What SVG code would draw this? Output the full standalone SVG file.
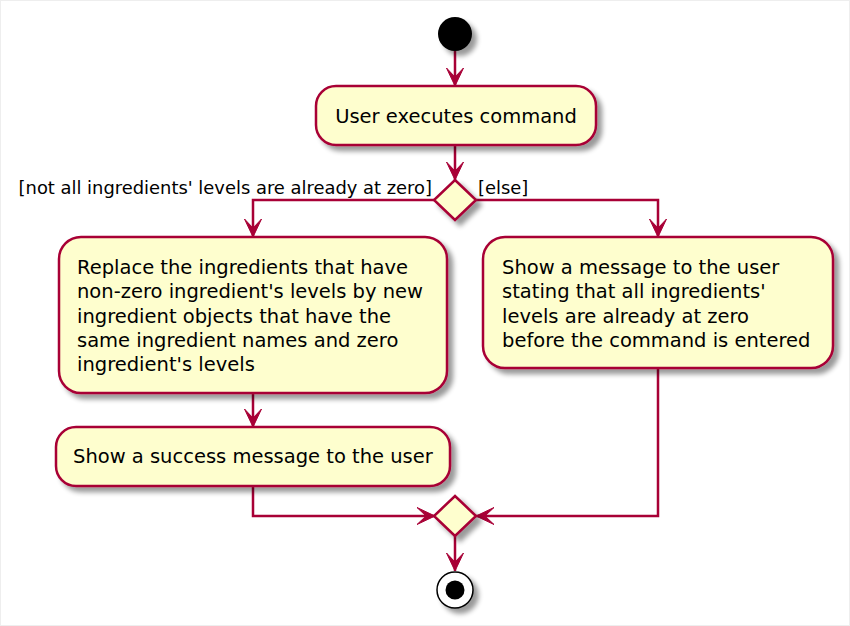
<svg xmlns="http://www.w3.org/2000/svg" width="850" height="626" viewBox="0 0 850 626">
<defs>
<filter id="sh" x="-20%" y="-20%" width="150%" height="150%">
<feGaussianBlur in="SourceAlpha" stdDeviation="2.5"/>
<feOffset dx="5" dy="5" result="b"/>
<feComponentTransfer><feFuncA type="linear" slope="0.4"/></feComponentTransfer>
<feMerge><feMergeNode/><feMergeNode in="SourceGraphic"/></feMerge>
</filter>
<marker id="ah" markerUnits="userSpaceOnUse" markerWidth="20" markerHeight="20" viewBox="-19 -10 20 20" refX="0" refY="0" orient="auto">
<path d="M0,0 L-18,-8.5 L-9,0 L-18,8.5 Z" fill="#A80036" stroke="#A80036" stroke-width="1"/>
</marker>
<style>
.act{fill:#FEFECE;stroke:#A80036;stroke-width:2.5;filter:url(#sh)}
.t{font-family:"DejaVu Sans",Verdana,sans-serif;font-size:19.5px;fill:#000}
.g{font-family:"DejaVu Sans",Verdana,sans-serif;font-size:17.9px;fill:#000}
.c{fill:none;stroke:#A80036;stroke-width:2.5}
</style>
</defs>
<rect x="0.5" y="0.5" width="849" height="625" fill="#fff" stroke="#eeeeee" stroke-width="1"/>
<g id="connectors">
<line class="c" x1="455" y1="51" x2="455" y2="86" marker-end="url(#ah)"/>
<line class="c" x1="455" y1="145" x2="455" y2="180" marker-end="url(#ah)"/>
<polyline class="c" points="435,200 253,200 253,237" marker-end="url(#ah)"/>
<polyline class="c" points="476,200 658,200 658,237" marker-end="url(#ah)"/>
<line class="c" x1="253" y1="393" x2="253" y2="427" marker-end="url(#ah)"/>
<polyline class="c" points="253,486 253,516 435,516" marker-end="url(#ah)"/>
<polyline class="c" points="658,368 658,516 476,516" marker-end="url(#ah)"/>
<line class="c" x1="455" y1="536" x2="455" y2="571" marker-end="url(#ah)"/>
<text class="g" x="432" y="194" text-anchor="end">[not all ingredients' levels are already at zero]</text>
<text class="g" x="478" y="194">[else]</text>
</g>
<g id="start"><circle cx="455" cy="34" r="17" fill="#000" filter="url(#sh)"/></g>
<g id="a1">
<rect class="act" x="316" y="86" width="280" height="59" rx="20"/>
<text class="t" x="456" y="123" text-anchor="middle">User executes command</text>
</g>
<g id="d1"><polygon class="act" points="455,180 476,200 455,220 434,200"/></g>
<g id="a2">
<rect class="act" x="59" y="237" width="388" height="156" rx="22"/>
<text class="t" x="77" y="274">Replace the ingredients that have</text>
<text class="t" x="77" y="298">non-zero ingredient's levels by new</text>
<text class="t" x="77" y="323">ingredient objects that have the</text>
<text class="t" x="77" y="347">same ingredient names and zero</text>
<text class="t" x="77" y="371">ingredient's levels</text>
</g>
<g id="a3">
<rect class="act" x="483" y="237" width="350" height="131" rx="22"/>
<text class="t" x="502" y="274">Show a message to the user</text>
<text class="t" x="502" y="298">stating that all ingredients'</text>
<text class="t" x="502" y="323">levels are already at zero</text>
<text class="t" x="502" y="347">before the command is entered</text>
</g>
<g id="a4">
<rect class="act" x="56" y="427" width="394" height="59" rx="20"/>
<text class="t" x="73" y="463">Show a success message to the user</text>
</g>
<g id="d2"><polygon class="act" points="455,496 476,516 455,536 434,516"/></g>
<g id="end">
<circle cx="455" cy="590" r="18" fill="#fff" stroke="#000" stroke-width="1.5" filter="url(#sh)"/>
<circle cx="455" cy="590" r="9.5" fill="#000"/>
</g>
</svg>
